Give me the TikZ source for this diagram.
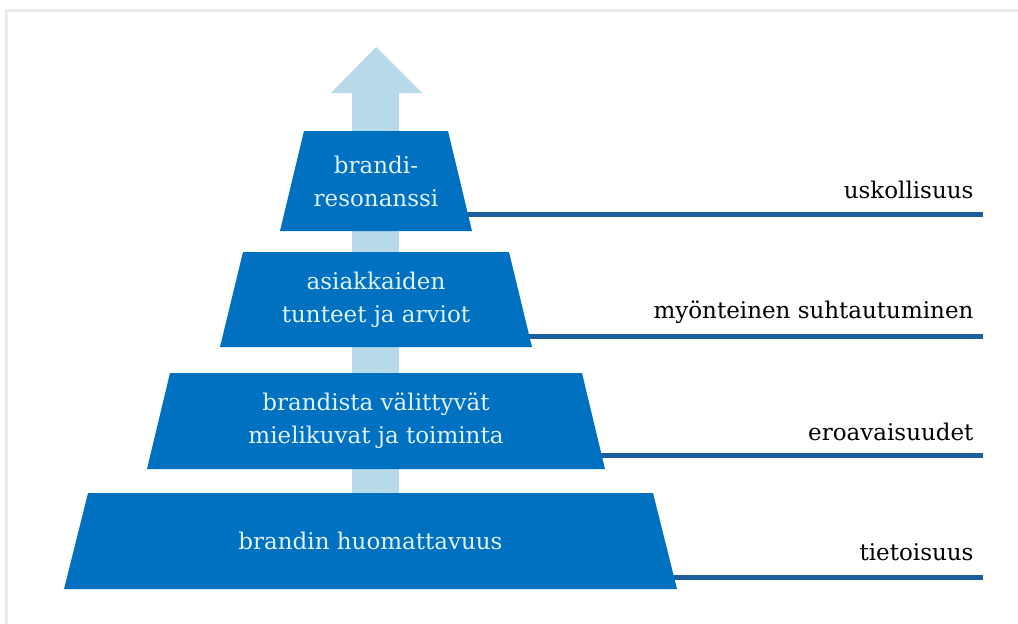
\documentclass[tikz,border=0pt]{standalone}
\usepackage{fontspec}
\setmainfont{DejaVu Serif}
\usepackage{tikz}
\usetikzlibrary{positioning, backgrounds}
\definecolor{pyramidblue}{RGB}{0,112,192}
\definecolor{lineblue}{RGB}{27,95,160}
\definecolor{arrowblue}{RGB}{183,217,232}
\definecolor{pyramidtext}{RGB}{222,243,250}
\definecolor{framegray}{RGB}{235,235,235}

\begin{document}
\begin{tikzpicture}[x=1pt,y=-1pt,
    taso/.style={fill=pyramidblue},
    tasoteksti/.style={text=pyramidtext,align=center,inner sep=0pt,font=\fontsize{23}{33}\selectfont},
    viiva/.style={draw=lineblue,line width=5pt},
    selite/.style={anchor=base east,font=\fontsize{23}{28}\selectfont}]
    \useasboundingbox (0,0) rectangle (1018,624);
    % Kehys
    \draw[framegray,line width=3pt] (6,624) -- (6,10) -- (1018,10);

    % Nuoli
    \fill[arrowblue] (352,500) -- (352,93) -- (331,93) -- (376,47) -- (422,93) -- (399,93) -- (399,500) -- cycle;

    % Viivat oikealle
    \coordinate (e1) at (983,577);
    \coordinate (e2) at (983,455);
    \coordinate (e3) at (983,336);
    \coordinate (e4) at (983,214);

    % Pyramidin tasot
    \fill[taso] (64,589) -- (88,493) -- (653,493) -- (677,589) -- cycle;
    \node[tasoteksti] (t1) at (370.5,541) {brandin huomattavuus};
    \fill[taso] (147,469) -- (170,373) -- (582,373) -- (605,469) -- cycle;
    \node[tasoteksti] (t2) at (376,421) {brandista välittyvät\\mielikuvat ja toiminta};
    \fill[taso] (220,347) -- (243,252) -- (509,252) -- (532,347) -- cycle;
    \node[tasoteksti] (t3) at (376,300) {asiakkaiden\\tunteet ja arviot};
    \fill[taso] (280,231) -- (304,131) -- (448,131) -- (472,231) -- cycle;
    \node[tasoteksti] (t4) at (376,181) {brandi-\\resonanssi};

    \begin{scope}[on background layer]
        \draw[viiva] (t1.center |- e1) -- (e1);
        \draw[viiva] (t2.center |- e2) -- (e2);
        \draw[viiva] (t3.center |- e3) -- (e3);
        \draw[viiva] (t4.center |- e4) -- (e4);
    \end{scope}

    % Selitteet
    \node[selite] (s1) at (977,560) {tietoisuus};
    \node[selite] (s2) at (977,440) {eroavaisuudet};
    \node[selite] (s3) at (977,318) {myönteinen suhtautuminen};
    \node[selite] (s4) at (977,198) {uskollisuus};
\end{tikzpicture}
\end{document}
